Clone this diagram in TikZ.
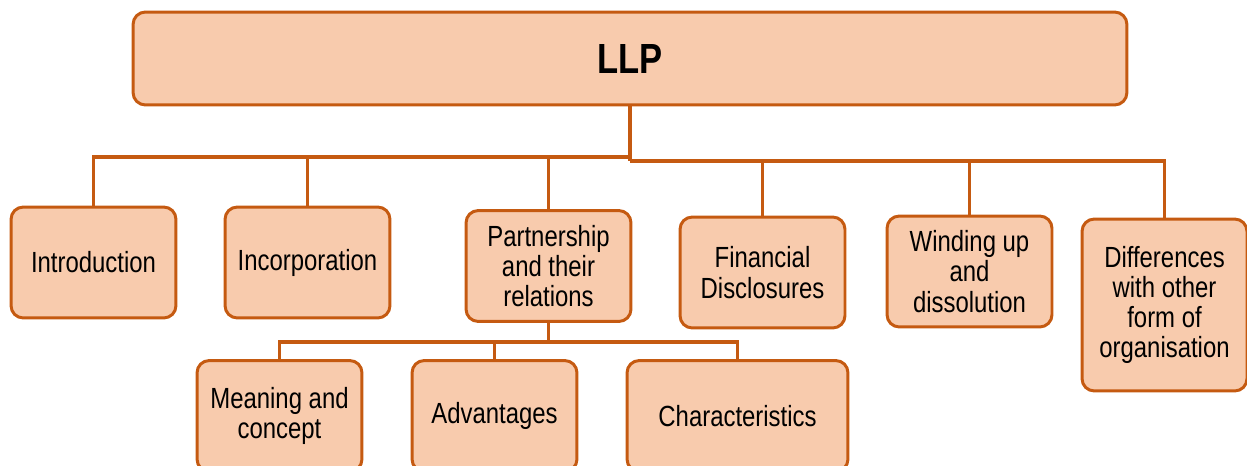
\documentclass[tikz,border=0pt]{standalone}
\usepackage{fontspec}
\setmainfont[FakeStretch=0.82]{Liberation Sans}
\definecolor{boxFill}{HTML}{F8CBAD}
\definecolor{boxLine}{HTML}{C55A11}
\begin{document}
\begin{tikzpicture}[x=0.02cm, y=-0.02cm,
    topic/.style={draw=boxLine, fill=boxFill, line width=1.7pt, rounded corners=7pt,
        align=center, minimum width=3.3cm, minimum height=2.22cm, inner sep=2pt,
        font=\fontsize{16.6}{17.2}\selectfont},
    link/.style={draw=boxLine, line width=2.2pt}]
    \useasboundingbox (0,0) rectangle (1247,466);
    \clip (0,0) rectangle (1247,466);

    %% top box
    \node[topic, minimum width=19.88cm, minimum height=1.86cm,
        font=\fontsize{24}{28}\selectfont\bfseries] (llp) at (630,58.5) {LLP};

    %% first row
    \node[topic] (intro) at (93.5,262.5) {Introduction};
    \node[topic] (incorp) at (307.5,262.5) {Incorporation};
    \node[topic] (partner) at (548.5,266) {Partnership\\and their\\relations};
    \node[topic] (finance) at (762.5,272.5) {Financial\\Disclosures};
    \node[topic] (winding) at (969.5,271.5) {Winding up\\and\\dissolution};
    \node[topic, minimum height=3.44cm] (differ) at (1164.5,305) {Differences\\with other\\form of\\organisation};

    %% second row (runs past the lower edge)
    \node[topic] (meaning) at (279.5,416) {Meaning and\\concept};
    \node[topic] (advant) at (494.5,416) {Advantages};
    \node[topic, minimum width=4.42cm] (charac) at (737.5,416) {Characteristics};

    %% buses
    \coordinate (busLeft) at (630,157);
    \coordinate (busRight) at (630,161);
    \coordinate (busPart) at (548.5,342);

    \draw[link] (llp.south) -- (busRight);
    \foreach \n in {intro,incorp,partner}
        \draw[link] (\n.north) |- (busLeft);
    \foreach \n in {finance,winding,differ}
        \draw[link] (\n.north) |- (busRight);

    \draw[link] (partner.south) -- (busPart);
    \foreach \n in {meaning,advant,charac}
        \draw[link] (\n.north) |- (busPart);
\end{tikzpicture}
\end{document}
